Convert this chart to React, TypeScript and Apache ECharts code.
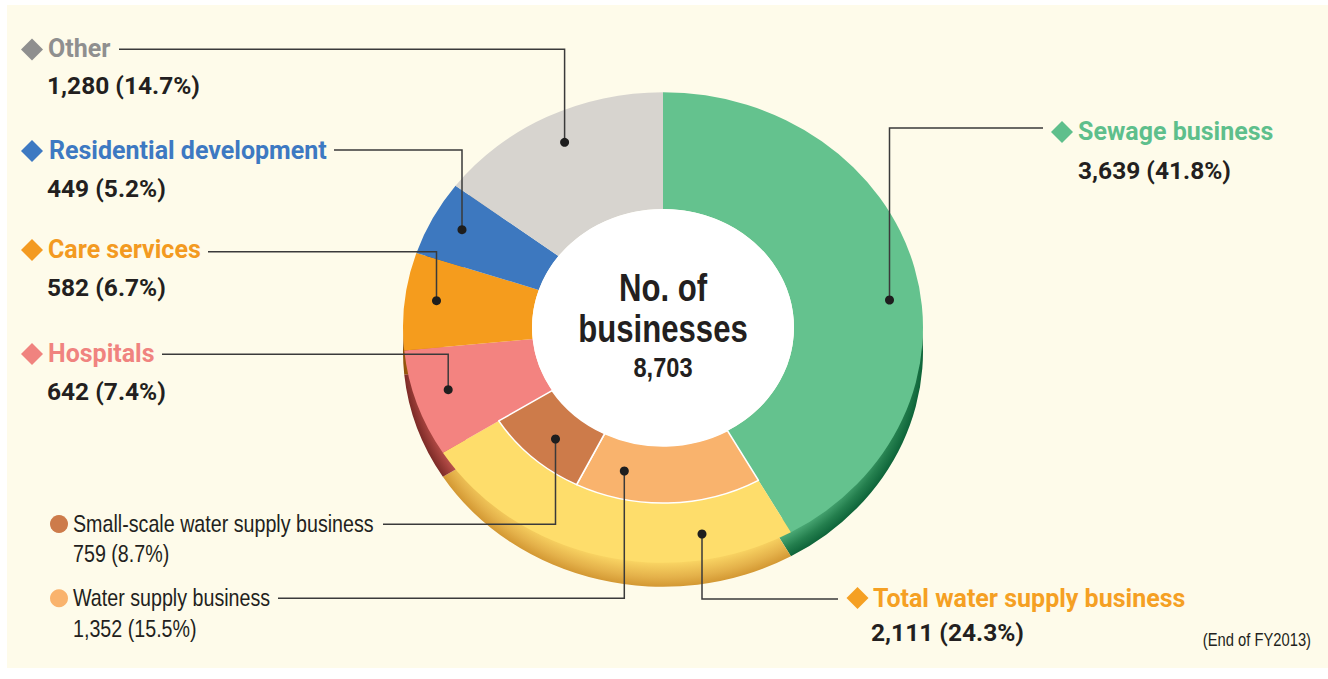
import React, { useEffect, useRef } from 'react';
import * as echarts from 'echarts';

// ---------- data ----------
const categories = [
  'Sewage business',
  'Total water supply business',
  'Hospitals',
  'Care services',
  'Residential development',
  'Other',
];
const values = [3639, 2111, 642, 582, 449, 1280];

const subCategories = ['Water supply business', 'Small-scale water supply business'];
const subValues = [1352, 759];

const centerTitle = ['No. of', 'businesses'];
const footnote = '(End of FY2013)';

// ---------- styles / layout ----------
const W = 1328;
const H = 679;
const CX = 663;
const CY = 327.5;
const K = 0.905; // vertical squash of the donut (ellipse)
const R_OUT = 260;
const R_IN = 131;
const R_MID = 194;
const RIM = 26.5;

const faceColors = ['#64C28E', '#FEDD6B', '#F38380', '#F59C1D', '#3D78BF', '#D7D4CF'];
const rimStops = [
  ['#55B480', '#247F4E', '#0E6439'],
  ['#F9D463', '#E4B14A', '#D39833'],
  ['#DE746F', '#A8443F', '#7C2B27'],
  ['#E08A15', '#B86A0E', '#8E500A'],
  ['#356AAA', '#2A558E', '#1F4472'],
  ['#C4C0BA', '#A8A49E', '#8C8883'],
];
const subColors = ['#F9B36D', '#CD7B4A'];
const labelColors = ['#5EBF8C', '#F5A023', '#F0837F', '#F39A21', '#3D79C2', '#8F8F8F'];
const subLabelColors = ['#F9B36D', '#CD7B4A'];
const INK = '#231F20';
const LINE = '#3A3A3A';

const BOLD = 'Roboto, "Liberation Sans", sans-serif';
const SANS = '"Liberation Sans", Arial, sans-serif';
const NARROW_X = 0.82;

// label layout (screen pixels)
const mainLayout = [
  { marker: [1062, 132], tx: 1078, ty: 131.5, nx: 1078, ny: 170.5, line: [[889.5, 300], [889.5, 128], [1043, 128]] },
  { marker: [857.5, 598], tx: 873, ty: 598.3, nx: 871, ny: 632.5, line: [[702, 534], [702, 599], [838, 599]] },
  { marker: [32, 354], tx: 48, ty: 353.3, nx: 47, ny: 391, line: [[448.2, 389.7], [448.2, 354.3], [162, 354.3]] },
  { marker: [32, 250], tx: 48, ty: 249.5, nx: 47, ny: 287, line: [[436.5, 300.7], [436.5, 251.7], [208, 251.7]] },
  { marker: [32, 151], tx: 49, ty: 150.5, nx: 47, ny: 188, line: [[462, 229.7], [462, 150], [334, 150]] },
  { marker: [32, 49.5], tx: 48, ty: 48.5, nx: 47, ny: 85.5, line: [[564.6, 142.3], [564.6, 49.3], [119, 49.3]] },
];
const subLayout = [
  { dot: [59, 598.3], tx: 73, ty: 598, ny: 629, line: [[624.3, 471], [624.3, 598.3], [278, 598.3]] },
  { dot: [59, 524], tx: 73, ty: 524, ny: 554, line: [[555.5, 439], [555.5, 524.3], [383, 524.3]] },
];

const total = values.reduce((a, b) => a + b, 0);
const fmt = (v: number) => v.toLocaleString('en-US');
const pct = (v: number) => ((v / total) * 100).toFixed(1);

function txt(
  x: number,
  y: number,
  text: string,
  size: number,
  weight: string,
  family: string,
  fill: string,
  align = 'left',
  sx = 1
) {
  return {
    type: 'text',
    silent: true,
    z: 20,
    x,
    y,
    scaleX: sx,
    style: {
      x: 0,
      y: 0,
      text,
      fontSize: size,
      fontWeight: weight,
      fontFamily: family,
      fill,
      align,
      textAlign: align,
      verticalAlign: 'middle',
      textVerticalAlign: 'middle',
    },
  };
}

function bgOption() {
  return {
    animation: false,
    graphic: [
      { type: 'rect', silent: true, shape: { x: 7, y: 5, width: W - 7, height: 663 }, style: { fill: '#FEFBEA' } },
    ],
  };
}

function pieOption() {
  const rimData = categories.map((c, i) => ({
    name: c,
    value: values[i],
    itemStyle: {
      color: new echarts.graphic.RadialGradient(
        CX,
        CY + RIM,
        R_OUT,
        [
          { offset: (R_OUT - RIM) / R_OUT, color: rimStops[i][0] },
          { offset: 0.96, color: rimStops[i][1] },
          { offset: 1, color: rimStops[i][2] },
        ],
        true
      ),
    },
  }));
  const faceData = categories.map((c, i) => ({ name: c, value: values[i], itemStyle: { color: faceColors[i] } }));
  const before = values[0];
  const after = total - values[0] - values[1];
  const subData = [
    { name: '_a', value: before, itemStyle: { color: 'rgba(0,0,0,0)', borderWidth: 0 } },
    ...subCategories.map((c, i) => ({
      name: c,
      value: subValues[i],
      itemStyle: { color: subColors[i], borderColor: '#FFFFFF', borderWidth: 1.6 },
    })),
    { name: '_b', value: after, itemStyle: { color: 'rgba(0,0,0,0)', borderWidth: 0 } },
  ];
  const common = {
    type: 'pie',
    silent: true,
    startAngle: 90,
    clockwise: true,
    avoidLabelOverlap: false,
    label: { show: false },
    labelLine: { show: false },
    emphasis: { disabled: true },
  };
  return {
    animation: false,
    series: [
      { ...common, z: 1, center: [CX, CY + RIM], radius: [R_OUT - 40, R_OUT], data: rimData },
      { ...common, z: 2, center: [CX, CY], radius: [R_IN, R_OUT], data: faceData },
      { ...common, z: 3, center: [CX, CY], radius: [R_IN, R_MID], data: subData },
    ],
    graphic: [
      { type: 'circle', silent: true, z: 100, shape: { cx: CX, cy: CY, r: R_IN }, style: { fill: '#FFFFFF' } },
    ],
  };
}

function topOption() {
  const els: any[] = [];
  categories.forEach((c, i) => {
    const L = mainLayout[i];
    els.push({ type: 'polyline', silent: true, z: 10, shape: { points: L.line }, style: { stroke: LINE, lineWidth: 1.5, fill: 'none' } });
    const d = L.line[0];
    els.push({ type: 'circle', silent: true, z: 11, shape: { cx: d[0], cy: d[1], r: 4.5 }, style: { fill: '#1E1E1E' } });
    const [mx, my] = L.marker;
    els.push({
      type: 'polygon',
      silent: true,
      z: 11,
      shape: { points: [[mx, my - 11], [mx + 11, my], [mx, my + 11], [mx - 11, my]] },
      style: { fill: labelColors[i] },
    });
    els.push(txt(L.tx, L.ty, c, 25, 'bold', BOLD, labelColors[i]));
    els.push(txt(L.nx, L.ny, `${fmt(values[i])} (${pct(values[i])}%)`, 24.5, 'bold', BOLD, INK));
  });
  subCategories.forEach((c, i) => {
    const L = subLayout[i];
    els.push({ type: 'polyline', silent: true, z: 10, shape: { points: L.line }, style: { stroke: LINE, lineWidth: 1.5, fill: 'none' } });
    const d = L.line[0];
    els.push({ type: 'circle', silent: true, z: 11, shape: { cx: d[0], cy: d[1], r: 4.5 }, style: { fill: '#1E1E1E' } });
    els.push({ type: 'circle', silent: true, z: 11, shape: { cx: L.dot[0], cy: L.dot[1], r: 9 }, style: { fill: subLabelColors[i] } });
    els.push(txt(L.tx, L.ty, c, 24, 'normal', SANS, INK, 'left', NARROW_X));
    els.push(txt(L.tx, L.ny, `${fmt(subValues[i])} (${pct(subValues[i])}%)`, 24, 'normal', SANS, INK, 'left', NARROW_X));
  });
  // centre
  els.push(txt(CX, 288, centerTitle[0], 38, 'bold', SANS, INK, 'center', NARROW_X));
  els.push(txt(CX, 328.5, centerTitle[1], 38, 'bold', SANS, INK, 'center', NARROW_X));
  els.push(txt(CX, 367.5, fmt(total), 27.5, 'bold', SANS, INK, 'center', 0.86));
  els.push(txt(1311, 639, footnote, 18, 'normal', SANS, INK, 'right', NARROW_X));
  return { animation: false, graphic: els };
}

export default function App() {
  const bgRef = useRef<HTMLDivElement>(null);
  const pieRef = useRef<HTMLDivElement>(null);
  const topRef = useRef<HTMLDivElement>(null);
  useEffect(() => {
    const bg = echarts.init(bgRef.current!, null, { renderer: 'svg' });
    const pie = echarts.init(pieRef.current!, null, { renderer: 'svg' });
    const top = echarts.init(topRef.current!, null, { renderer: 'svg' });
    bg.setOption(bgOption() as any);
    pie.setOption(pieOption() as any);
    top.setOption(topOption() as any);
    return () => {
      bg.dispose();
      pie.dispose();
      top.dispose();
    };
  }, []);
  const layer: React.CSSProperties = { position: 'absolute', left: 0, top: 0, width: W, height: H };
  return (
    <div style={{ position: 'fixed', left: 0, top: 0, width: W, height: H, background: '#FFFFFF', overflow: 'hidden' }}>
      <div ref={bgRef} style={layer} />
      <div ref={pieRef} style={{ ...layer, transform: `scaleY(${K})`, transformOrigin: `0px ${CY}px` }} />
      <div ref={topRef} style={layer} />
    </div>
  );
}
